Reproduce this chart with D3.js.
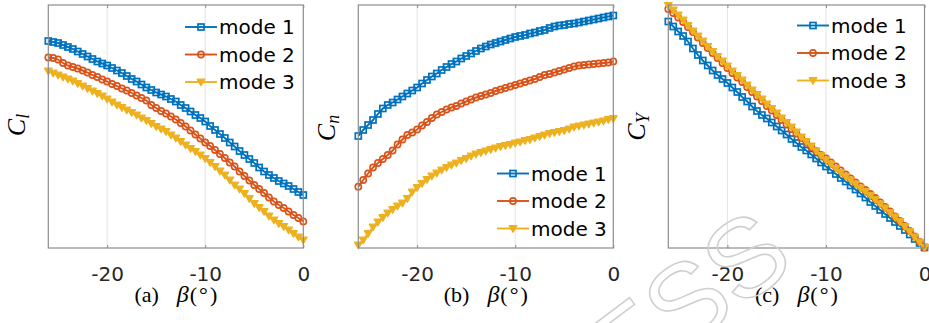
<!DOCTYPE html>
<html lang="en">
<head>
<meta charset="UTF-8">
<title>coefficients vs sideslip</title>
<script src="https://d3js.org/d3.v7.min.js"></script>
<style>
  body{margin:0;background:#fff;}
  .axis text{font-family:"DejaVu Sans",sans-serif;font-size:20px;fill:#262626;}
  .axis path{display:none;}
  .legend text{font-family:"DejaVu Sans",sans-serif;font-size:20px;fill:#000;}
  .lab{font-family:"Liberation Serif",serif;fill:#000;}
</style>
</head>
<body>
<svg class="chart" width="929" height="323"></svg>
<script>
// sideslip angle (deg)
const beta = [-26,-25.5,-25,-24.5,-24,-23.5,-23,-22.5,-22,-21.5,-21,-20.5,-20,-19.5,-19,-18.5,-18,-17.5,-17,-16.5,-16,-15.5,-15,-14.5,-14,-13.5,-13,-12.5,-12,-11.5,-11,-10.5,-10,-9.5,-9,-8.5,-8,-7.5,-7,-6.5,-6,-5.5,-5,-4.5,-4,-3.5,-3,-2.5,-2,-1.5,-1,-0.5,0];
const xTicks = [-20,-10,0];
const gridTicks = [-20,-10];
const modeNames = ['mode 1','mode 2','mode 3'];

// values, arbitrary units (y axis carries no labels)
const clMode1 = [207,206,205,203,201,199,196.5,194,191.5,189,186.5,184.5,182.5,180,177.5,175,172,169,166.5,163.5,160.5,158,155.5,153.5,151.5,149,146.5,143,140,136.5,133,130,126.5,122,118,114,110,105.5,101.5,97,93,89,85,80.5,76.5,73,70,67,64.5,62,59,56,53];
const clMode2 = [190.5,190,188.5,185,182.5,181,179.5,177.5,175.5,173,171,168.5,166.5,164,162,159.5,157.5,155,152.5,150,147.5,143,140,137,134.5,131.5,128.5,125,121.5,117.5,113.5,109.5,105.5,102,98,94,90,85.5,81.5,76.5,72,67.5,63,59,55,50.5,46.5,43,40,36.5,33,30,26.5];
const clMode3 = [177,175,173,171,169,167,164.5,162,159.5,157,154.5,152,149,146,143,140.5,138,135.5,133,130,127.5,124.5,121.5,119,116.5,113,110,106.5,103,99.5,96.5,93,89.5,85.5,81.5,77,73,68,63,59,54.5,49.5,44.5,40.5,36.5,32,28,24.5,21.5,18,14.5,11,8];

const cnMode1 = [112,118,123,128,134,139.5,143,145.5,148.5,151.5,154.5,157.5,160.5,164.5,168,171.5,174.5,178,181,184,186.5,189.5,192,194.5,197,199.5,201.5,203.5,205,206.5,208,209.5,211,212,213,214.5,215.5,217,218,220,221.5,222.5,223,224,224.5,225.5,226.5,227.5,228.5,229.5,230.5,231.5,232.5];
const cnMode2 = [61.3,68,74.5,80.5,85,89,93,97.5,103.5,108.5,113,115.5,118.5,122.5,126,130,133.5,136,138.5,140.5,142,144.5,146.5,148.5,150.5,152,153.5,155,157,158.5,160,161.5,163,164.5,166,167.5,169,171,173,174,175.5,177,178.5,180,181.5,182.5,183,183.5,184,184.5,185,185.5,186.5];
const cnMode3 = [3,8,14.5,21,26,30.5,35,38.5,42,45,49.5,56,60.5,64.5,68.5,72,75,78,80.5,83,85,87.5,89.5,92,94,95.5,97,98.5,100,101.5,102.5,103.5,105,106,107.5,108.5,110,111.5,113,114.5,115.5,116.5,117.5,119,121,122,123,124,125,126,127,128.5,129.5];

const cyMode1 = [226.5,221.5,216.5,212,206.5,199.5,193,187.5,182.5,177.5,173,169,165,160.5,156,151,146.5,141.5,137,133,129.5,125.5,121.5,117.5,113.5,109,105,101,97.5,93.5,89.5,85.5,81.5,78,74,70,66.5,62.5,58.5,54.5,50.5,46,42,38,34,30,26,22,18,13.5,9,5,0.5];
const cyMode2 = [239,235,230.5,226,221,216,210.5,205,200,195,190,185,180,175,170.5,166,161,156,151.5,147,142,137.5,133,128,123.5,119,114.5,110,105.5,101,97,93,89.5,85.5,81.5,77.5,73.5,69.5,65.5,61.5,58,54,50,45.5,41,36.5,31.5,27,22,17,11.5,6,0.5];
const cyMode3 = [242.5,238,233,228,222.5,217,212,207,201.5,196.5,191.5,187,182,177,172.5,168,163,158,153.5,149,144,139.5,135,130,125.5,121,116,111,106.5,102,97,92.5,88,84,79.5,75.5,71.5,68,64,60,56.5,52.5,48.5,44,40,35.5,31,26.5,21.5,16.5,11,6,0.5];

const colors = ['#0072BD','#D95319','#EDB120'];

const panels = [
  {tag:'(a)', sub:'l', series:[clMode1,clMode2,clMode3], left:48.3, right:303.3, ylx:25, yly:125, lgx:185, lgy:27},
  {tag:'(b)', sub:'n', series:[cnMode1,cnMode2,cnMode3], left:358.3, right:613.3, ylx:335, yly:128, lgx:497, lgy:173.5},
  {tag:'(c)', sub:'Y', series:[cyMode1,cyMode2,cyMode3], left:668.3, right:924.5, ylx:645, yly:127, lgx:797, lgy:25.5}
];
const plotTop = 5, plotBottom = 248;

const svg = d3.select('.chart');
svg.append('rect').attr('width',929).attr('height',323).attr('fill','#fff');

function marker(g, i, x, y){
  const c = colors[i];
  if(i===0){
    g.append('rect').attr('x',x-3).attr('y',y-3).attr('width',6).attr('height',6)
      .attr('fill','none').attr('stroke',c).attr('stroke-width',1.7);
  } else if(i===1){
    g.append('circle').attr('cx',x).attr('cy',y).attr('r',3.1)
      .attr('fill','none').attr('stroke',c).attr('stroke-width',1.6);
  } else {
    g.append('path').attr('d','M'+(x-3.8)+','+(y-2.8)+'L'+(x+3.8)+','+(y-2.8)+'L'+x+','+(y+3.8)+'Z')
      .attr('fill',c).attr('stroke',c).attr('stroke-width',1.3).attr('stroke-linejoin','round');
  }
}

panels.forEach(p=>{
  const x = d3.scaleLinear().domain([-26,0]).range([p.left,p.right]);
  const y = d3.scaleLinear().domain([0,243]).range([plotBottom,plotTop]);
  const g = svg.append('g');

  // grid
  g.selectAll('.grid').data(gridTicks).enter().append('line')
    .attr('x1',d=>x(d)).attr('x2',d=>x(d)).attr('y1',plotTop).attr('y2',plotBottom)
    .attr('stroke','#e3e3e3').attr('stroke-width',1);

  // curves
  const line = d3.line().x((d,i)=>x(beta[i])).y(d=>y(d));
  p.series.forEach((s,k)=>{
    g.append('path').datum(s).attr('d',line).attr('fill','none')
      .attr('stroke',colors[k]).attr('stroke-width',1.9);
    const mg = g.append('g');
    s.forEach((v,i)=>marker(mg,k,x(beta[i]),y(v)));
  });

  // box
  g.append('rect').attr('x',p.left).attr('y',plotTop).attr('width',p.right-p.left).attr('height',plotBottom-plotTop)
    .attr('fill','none').attr('stroke','#8c8c8c').attr('stroke-width',1.2);

  // ticks, top and bottom
  g.append('g').attr('class','axis').attr('transform','translate(0,'+plotBottom+')')
    .call(d3.axisBottom(x).tickValues(xTicks).tickFormat(d3.format('d')).tickSizeInner(-3).tickSizeOuter(0).tickPadding(19))
    .selectAll('line').attr('stroke','#8c8c8c');
  g.append('g').attr('class','axis').attr('transform','translate(0,'+plotTop+')')
    .call(d3.axisTop(x).tickValues(xTicks).tickFormat('').tickSizeInner(-3).tickSizeOuter(0))
    .selectAll('line').attr('stroke','#8c8c8c');
  g.selectAll('.axis text').text(function(){return this.textContent.replace('−','-');});

  // x label
  const xl = g.append('text').attr('class','lab').attr('x',(p.left+p.right)/2).attr('y',302)
    .attr('text-anchor','middle').attr('font-size',22);
  xl.append('tspan').text(p.tag);
  xl.append('tspan').attr('dx',18).attr('font-style','italic').attr('font-size',24).text('β');
  xl.append('tspan').attr('dx',1).text('(');
  xl.append('tspan').attr('dx',2).text('°');
  xl.append('tspan').attr('dx',2).text(')');

  // y label
  const yl = g.append('text').attr('class','lab').attr('text-anchor','middle')
    .attr('transform','translate('+p.ylx+','+p.yly+') rotate(-90)').attr('font-size',26);
  yl.append('tspan').attr('font-style','italic').text('C');
  yl.append('tspan').attr('font-style','italic').attr('font-size',18).attr('dy',4).text(p.sub);

  // legend
  const lg = g.append('g').attr('class','legend');
  modeNames.forEach((m,k)=>{
    const ly = p.lgy + k*27.5;
    lg.append('line').attr('x1',p.lgx).attr('x2',p.lgx+32).attr('y1',ly).attr('y2',ly)
      .attr('stroke',colors[k]).attr('stroke-width',1.9);
    marker(lg,k,p.lgx+16,ly);
    lg.append('text').attr('x',p.lgx+34).attr('y',ly).attr('dy','0.36em').text(m);
  });
});

// faint watermark, mostly below the frame
svg.append('text').attr('transform','translate(500,490) rotate(-37)')
  .attr('font-family','Liberation Sans, sans-serif').attr('font-size',110)
  .attr('fill','none').attr('stroke','#cfcfcf').attr('stroke-width',1.6).text('PRESS');
</script>
</body>
</html>
